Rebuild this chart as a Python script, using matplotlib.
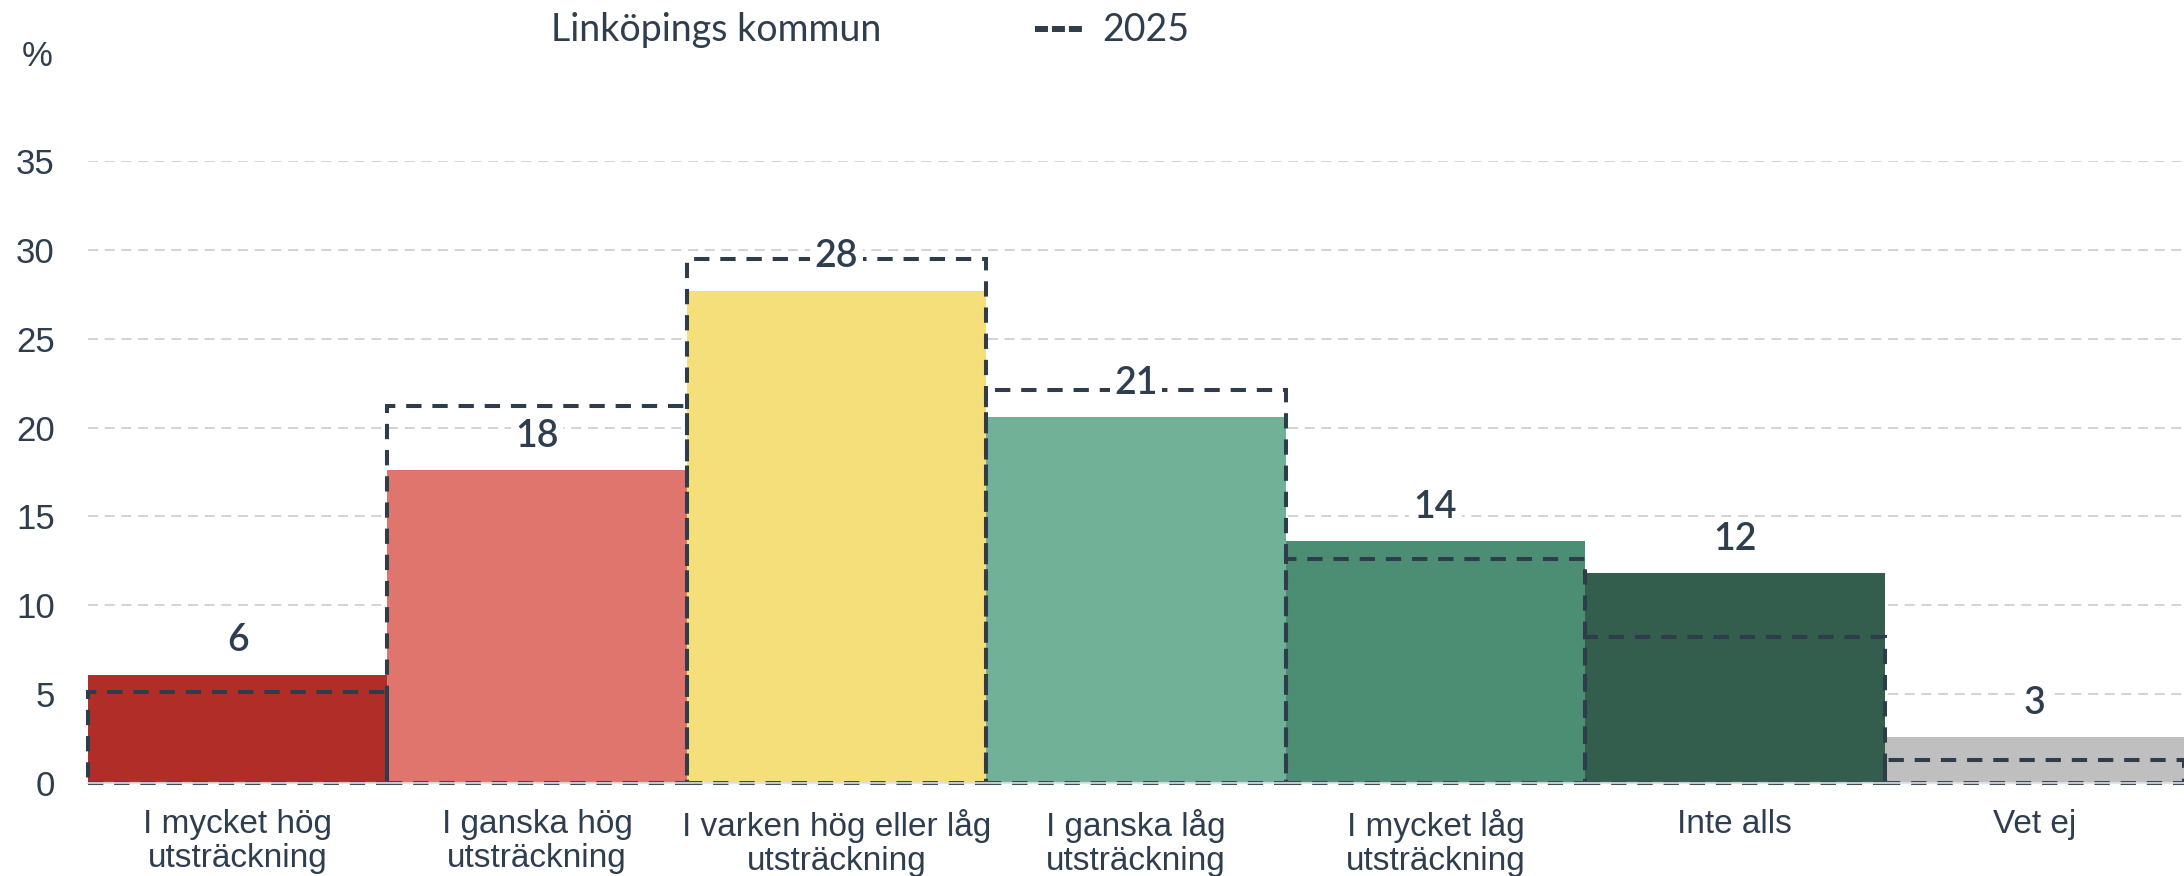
import matplotlib
matplotlib.use("Agg")
import matplotlib.pyplot as plt
from matplotlib.lines import Line2D

# Data
categories = [
    "I mycket hög\nutsträckning",
    "I ganska hög\nutsträckning",
    "I varken hög eller låg\nutsträckning",
    "I ganska låg\nutsträckning",
    "I mycket låg\nutsträckning",
    "Inte alls",
    "Vet ej",
]
values_2026 = [6.1, 17.6, 27.7, 20.6, 13.6, 11.8, 2.6]
value_labels = ["6", "18", "28", "21", "14", "12", "3"]
values_2025 = [5.1, 21.2, 29.5, 22.1, 12.6, 8.2, 1.3]
bar_colors = ["#b02e27", "#e0756d", "#f5df7b", "#70b197", "#4c8e73", "#335e4d", "#bfbfbf"]
yticks = [0, 5, 10, 15, 20, 25, 30, 35]

TEXT = "#2f3e4e"
DASH = "#2e3c4b"

plt.rcParams["font.family"] = ["Liberation Sans", "DejaVu Sans"]

fig = plt.figure(figsize=(21.84, 8.76), dpi=100)
ax = fig.add_axes([88 / 2184, 93 / 876, 2096 / 2184, 622 / 876])

x = list(range(len(categories)))

# grid
for t in yticks[1:]:
    ax.axhline(t, color="#cccccc", lw=1.2, ls=(0, (6, 4)), zorder=0)

ax.bar(x, values_2026, width=1.0, color=bar_colors, zorder=2)

# 2025 outlines
ax.bar(x, values_2025, width=1.0, fill=False, edgecolor=DASH, lw=2.9,
       ls=(0, (3.8, 2.7)), zorder=3, clip_on=False)

# light baseline drawn over the dashed bottom edges
ax.axhline(0, color="#dde1e6", lw=1.6, alpha=0.85, zorder=4, clip_on=False)

for xi, v, lab in zip(x, values_2026, value_labels):
    ax.text(xi, v + 1.9, lab, ha="center", va="center", fontsize=27,
            fontweight="semibold", color=TEXT, family=["Lato", "DejaVu Sans"],
            zorder=5, bbox=dict(boxstyle="square,pad=0.12", fc="white", ec="none"))

ax.set_xlim(-0.5, 6.5)
ax.set_ylim(0, 35)
ax.set_yticks(yticks)
ax.set_xticks(x)
ax.set_xticklabels(categories, fontsize=24, color=TEXT, linespacing=1.12)
ax.tick_params(axis="y", length=0, pad=24, labelsize=25, labelcolor=TEXT)
ax.tick_params(axis="x", length=0, pad=19)
for s in ax.spines.values():
    s.set_visible(False)

fig.text(37 / 2184, 1 - 57 / 876, "%", ha="center", va="center",
         fontsize=25, color=TEXT)

# legend row
fig.text(551 / 2184, 1 - 30 / 876, "Linköpings kommun", ha="left", va="center",
         fontsize=27, color=TEXT, family=["Lato", "DejaVu Sans"])
fig.add_artist(Line2D([1035 / 2184, 1082 / 2184], [1 - 29 / 876, 1 - 29 / 876],
                      transform=fig.transFigure, color=DASH, lw=4.3,
                      ls=(0, (2.17, 0.67))))
fig.text(1102 / 2184, 1 - 30 / 876, "2025", ha="left", va="center",
         fontsize=27, color=TEXT, family=["Lato", "DejaVu Sans"])

fig.savefig("out.png", dpi=100)
